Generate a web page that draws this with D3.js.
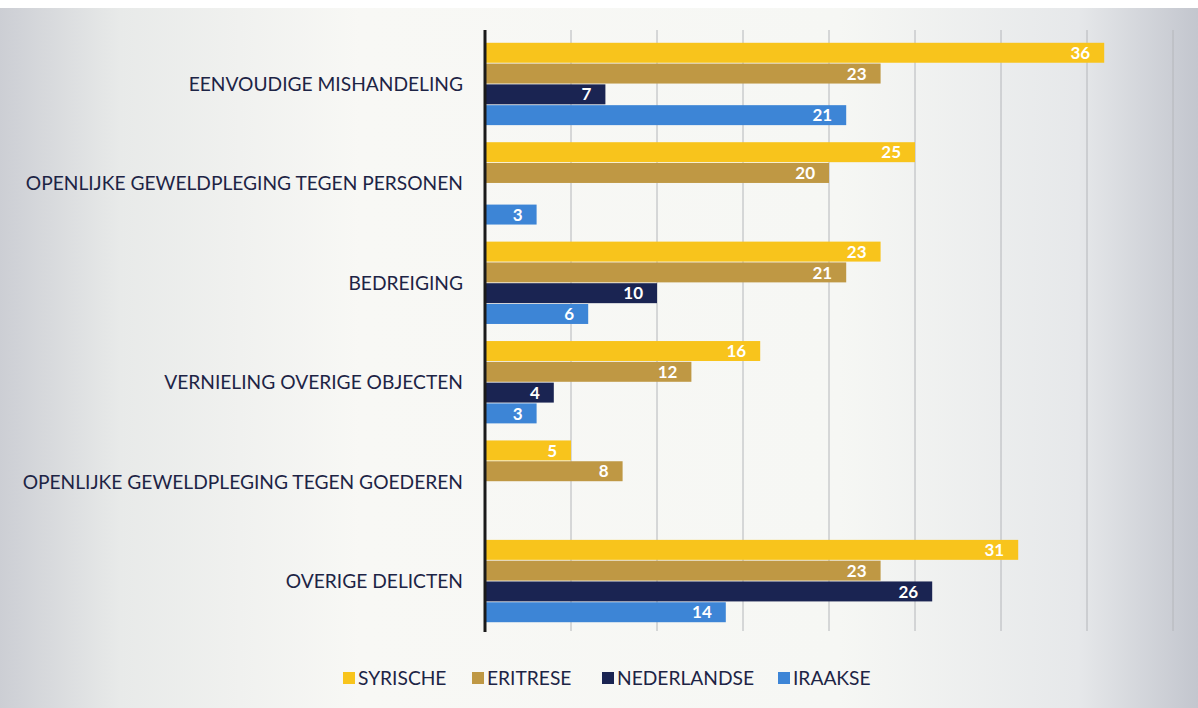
<!DOCTYPE html>
<html>
<head>
<meta charset="utf-8">
<script src="https://cdn.jsdelivr.net/npm/d3@7"></script>
<style>
body { margin: 0; background: #fff; }
svg { display: block; }
</style>
</head>
<body>
<svg width="1198" height="708"></svg>
<script>
// categories and series, top to bottom
var categories = ["EENVOUDIGE MISHANDELING", "OPENLIJKE GEWELDPLEGING TEGEN PERSONEN", "BEDREIGING",
  "VERNIELING OVERIGE OBJECTEN", "OPENLIJKE GEWELDPLEGING TEGEN GOEDEREN", "OVERIGE DELICTEN"];
var seriesNames = ["SYRISCHE", "ERITRESE", "NEDERLANDSE", "IRAAKSE"];
var syrische = [36, 25, 23, 16, 5, 31];
var eritrese = [23, 20, 21, 12, 8, 23];
var nederlandse = [7, null, 10, 4, null, 26];
var iraakse = [21, 3, 6, 3, null, 14];
var colors = ["#f8c41c", "#bf9844", "#1a2452", "#3d85d6"];

var seriesValues = [syrische, eritrese, nederlandse, iraakse];

var svg = d3.select("svg");

// background with grey edges
var defs = svg.append("defs");
var grad = defs.append("linearGradient").attr("id", "bg").attr("x1", 0).attr("x2", 1).attr("y1", 0).attr("y2", 0);
[[0, "#ccced4"], [0.1, "#e8eae9"], [0.3, "#f8f8f5"], [0.7, "#f6f7f4"], [0.9, "#e6e8ea"], [1, "#c3c6ce"]]
  .forEach(function(s) { grad.append("stop").attr("offset", s[0]).attr("stop-color", s[1]); });
svg.append("rect").attr("width", 1198).attr("height", 708).attr("fill", "url(#bg)");
svg.append("rect").attr("width", 1198).attr("height", 8).attr("fill", "#ffffff");

var x = d3.scaleLinear().domain([0, 40]).range([485, 1173]);
var y0 = d3.scaleBand().domain(categories).range([34, 631]).paddingInner(0.155).paddingOuter(0.08);
var y1 = d3.scaleBand().domain(seriesNames).range([0, y0.bandwidth()]).padding(0.04);

// gridlines
svg.append("g")
  .selectAll("line")
  .data(d3.range(5, 45, 5))
  .enter().append("line")
  .attr("x1", function(d) { return x(d); })
  .attr("x2", function(d) { return x(d); })
  .attr("y1", 30)
  .attr("y2", 631)
  .attr("stroke", "#b4b6ba")
  .attr("stroke-width", 1);

var groups = svg.selectAll(".grp")
  .data(categories)
  .enter().append("g")
  .attr("class", "grp")
  .attr("transform", function(d) { return "translate(0," + y0(d) + ")"; });

groups.each(function(cat, ci) {
  var g = d3.select(this);
  seriesNames.forEach(function(s, si) {
    var v = seriesValues[si][ci];
    if (v == null) return;
    g.append("rect")
      .attr("x", x(0))
      .attr("y", y1(s))
      .attr("width", x(v) - x(0))
      .attr("height", y1.bandwidth())
      .attr("fill", colors[si]);
    g.append("text")
      .attr("x", x(v) - 14)
      .attr("y", y1(s) + y1.bandwidth() / 2)
      .attr("dy", "0.36em")
      .attr("text-anchor", "end")
      .attr("font-family", "Lato, sans-serif")
      .attr("font-weight", "bold")
      .attr("font-size", "17px")
      .attr("fill", "#ffffff")
      .text(v);
  });
});

// category labels
svg.append("g")
  .selectAll("text")
  .data(categories)
  .enter().append("text")
  .attr("x", 463)
  .attr("y", function(d) { return y0(d) + y0.bandwidth() / 2; })
  .attr("dy", "0.36em")
  .attr("text-anchor", "end")
  .attr("font-family", "Lato, sans-serif")
  .attr("font-size", "19.2px")
  .attr("fill", "#1d2445")
  .text(function(d) { return d; });

// axis line
svg.append("line")
  .attr("x1", x(0)).attr("x2", x(0))
  .attr("y1", 30).attr("y2", 632)
  .attr("stroke", "#1a1a1a")
  .attr("stroke-width", 3);

// legend
var legendX = [343, 472, 602, 778];
var legend = svg.append("g")
  .selectAll("g")
  .data(seriesNames)
  .enter().append("g")
  .attr("transform", function(d, i) { return "translate(" + legendX[i] + ",678)"; });
legend.append("rect")
  .attr("x", 0).attr("y", -6)
  .attr("width", 12).attr("height", 12)
  .attr("fill", function(d, i) { return colors[i]; });
legend.append("text")
  .attr("x", 15)
  .attr("dy", "0.36em")
  .attr("font-family", "Lato, sans-serif")
  .attr("font-size", "19.2px")
  .attr("fill", "#1d2445")
  .text(function(d) { return d; });
</script>
</body>
</html>
